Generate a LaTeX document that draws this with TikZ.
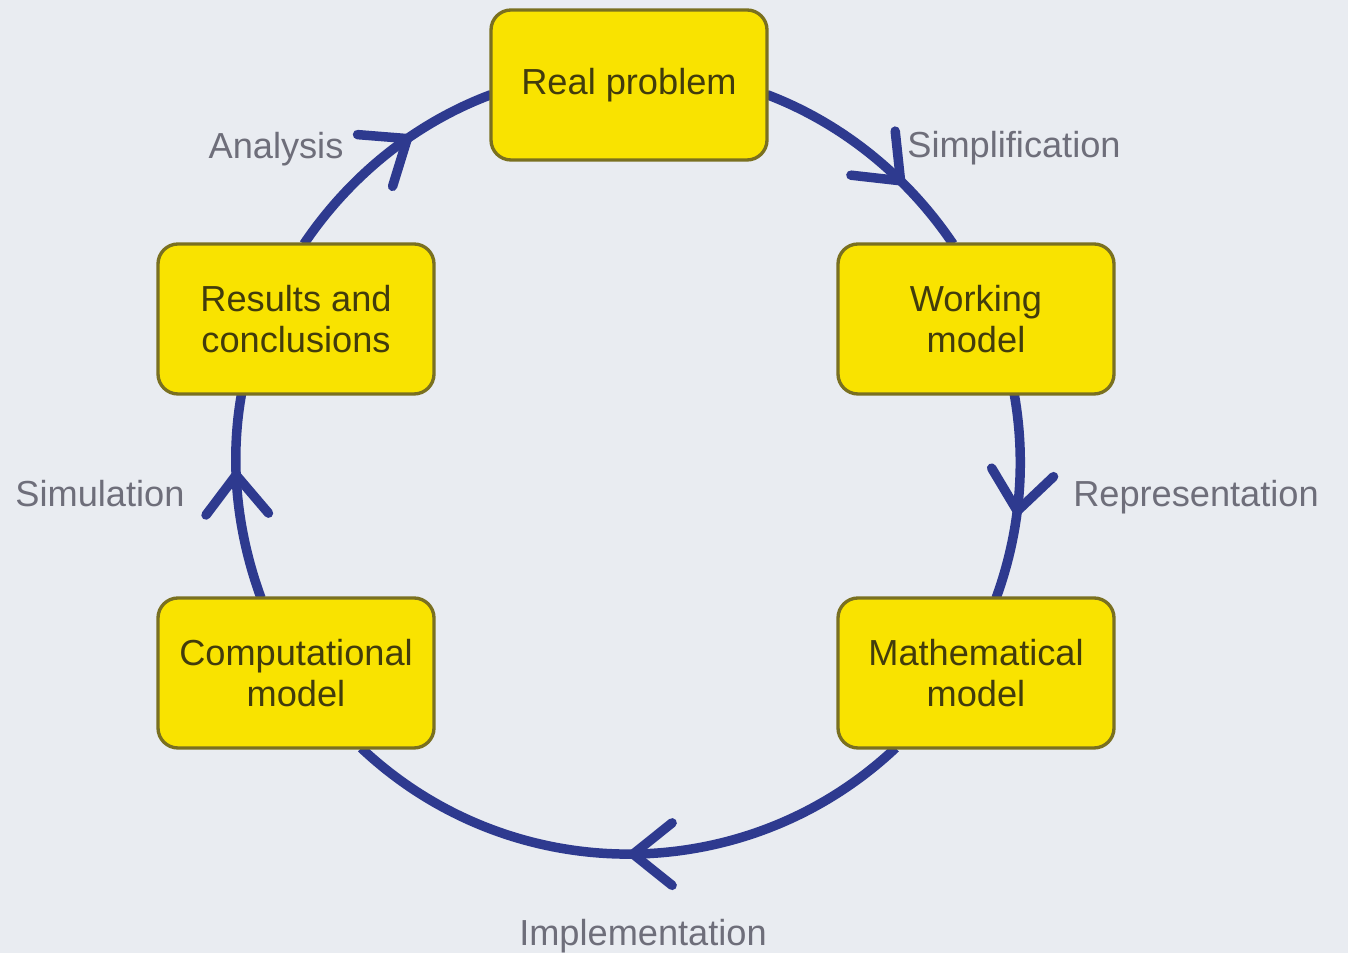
\documentclass[tikz,border=0pt]{standalone}
\usepackage{fontspec}
\setmainfont{Liberation Sans}
\usetikzlibrary{arrows.meta,decorations.markings}

\definecolor{paper}{HTML}{E9ECF1}
\definecolor{boxfill}{HTML}{F9E300}
\definecolor{boxline}{HTML}{7A7020}
\definecolor{boxtext}{HTML}{423C0C}
\definecolor{flow}{HTML}{2E3A8F}
\definecolor{labeltext}{HTML}{6E6E7A}

\pgfdeclarelayer{back}
\pgfdeclarelayer{links}
\pgfsetlayers{back,links,main}

\tikzset{
  stage/.style={draw=boxline, line width=1.9pt, fill=boxfill,
    rounded corners=0.4cm, minimum width=5.52cm, minimum height=3cm,
    inner sep=0pt, outer sep=0pt, align=center, text=boxtext,
    font=\fontsize{20.6}{23.4}\selectfont},
  tag/.style={text=labeltext, font=\fontsize{20.6}{23.4}\selectfont,
    anchor=base, inner sep=0pt},
  flowline/.style={draw=flow, line width=5.4pt},
  tipat/.style={postaction={decorate}, decoration={markings,
    mark=at position #1 with {\arrow{Straight Barb[color=flow, line width=5.4pt,
      length=0.78cm, width=1.25cm, round]}}}}
}

\begin{document}
\begin{tikzpicture}
  \useasboundingbox (0,0) rectangle (26.96,19.06);
  \begin{pgfonlayer}{back}
    \fill[paper] (0,0) rectangle (26.96,19.06);
  \end{pgfonlayer}

  % the five stages of the modelling cycle
  \node[stage] (rp) at (12.58,17.36) {Real problem};
  \node[stage] (wm) at (19.52,12.68) {Working\\model};
  \node[stage] (mm) at (19.52,5.60) {Mathematical\\model};
  \node[stage] (cm) at (5.92,5.60) {Computational\\model};
  \node[stage] (rc) at (5.92,12.68) {Results and\\conclusions};

  % circular arcs between the stages, running clockwise
  \begin{pgfonlayer}{links}
    \draw[flowline, tipat=0.68] (rp.-4.76) to[out=-20.8, in=124, looseness=0.87] (wm.107.05);
    \draw[flowline, tipat=0.59] (wm.-63.1) to[out=-79.9, in=69.9, looseness=0.87] (mm.75.07);
    \draw[flowline, tipat=0.5] (mm.223.5) to[out=-136.7, in=-43.3, looseness=0.99] (cm.-49.97);
    \draw[flowline, tipat=0.63] (cm.115.6) to[out=110.1, in=-100.1, looseness=0.87] (rc.234.2);
    \draw[flowline, tipat=0.63] (rc.84.67) to[out=56, in=200.5, looseness=0.87] (rp.184.76);
  \end{pgfonlayer}

  % step labels
  \node[tag] (lsimp) at (20.28,15.90) {Simplification};
  \node[tag] (lrep)  at (23.92,8.92) {Representation};
  \node[tag] (limp)  at (12.86,0.14) {Implementation};
  \node[tag] (lsim)  at (2.00,8.92) {Simulation};
  \node[tag] (lana)  at (5.52,15.88) {Analysis};
\end{tikzpicture}
\end{document}
